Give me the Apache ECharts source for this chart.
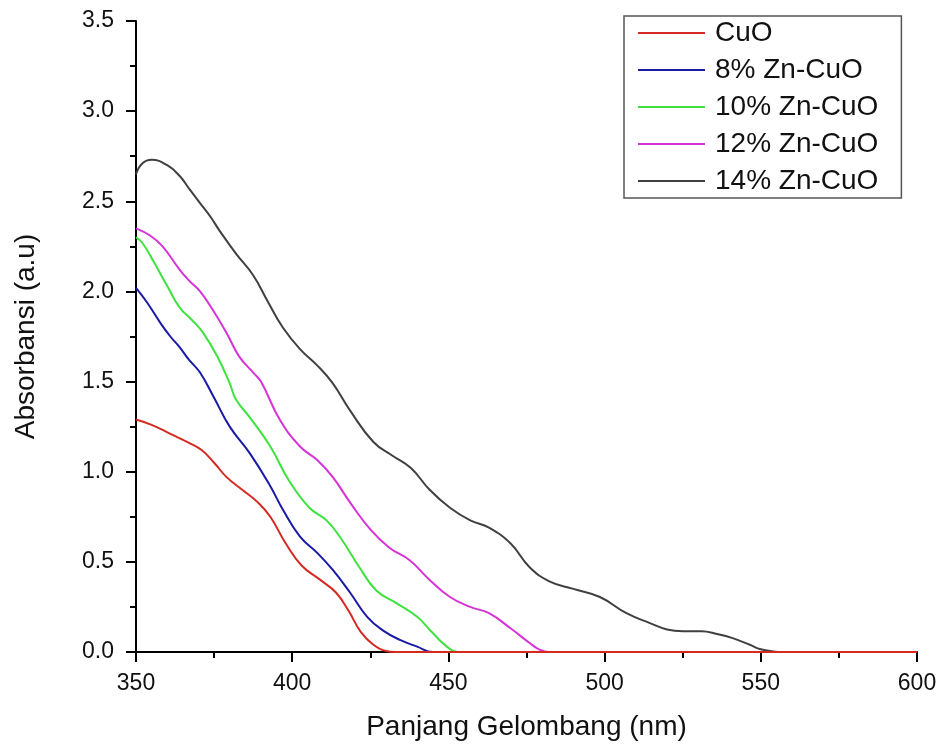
<!DOCTYPE html>
<html>
<head>
<meta charset="utf-8">
<script src="https://cdn.jsdelivr.net/npm/echarts@6/dist/echarts.min.js"></script>
<style>
  html, body { margin: 0; padding: 0; background: #fff; }
  #chart { width: 943px; height: 753px; }
</style>
</head>
<body>
<div id="chart"></div>
<script>
// UV-Vis absorbance spectra of CuO and Zn-doped CuO
const seriesNames = ['CuO', '8% Zn-CuO', '10% Zn-CuO', '12% Zn-CuO', '14% Zn-CuO'];
const seriesColors = ['#d42a22', '#1a1aa6', '#3ee23e', '#d634d6', '#404040'];

const wlCuO  = [350, 355, 361, 367, 371, 375, 379, 384, 389, 393, 398, 403, 409, 414, 418, 422, 426, 430, 433, 600];
const absCuO = [1.29, 1.26, 1.21, 1.16, 1.12, 1.05, 0.97, 0.90, 0.83, 0.75, 0.60, 0.48, 0.40, 0.33, 0.23, 0.11, 0.04, 0.005, 0, 0];

const wlZn8  = [350, 353.5, 358, 361, 364, 367, 370.5, 375, 380, 386.5, 393, 397, 402.5, 408, 413, 418.5, 424, 429, 434.5, 440, 445, 600];
const absZn8 = [2.02, 1.94, 1.82, 1.75, 1.69, 1.62, 1.55, 1.41, 1.25, 1.10, 0.92, 0.79, 0.64, 0.55, 0.455, 0.33, 0.195, 0.12, 0.067, 0.03, 0, 0];

const wlZn10  = [350, 352, 355.5, 360, 364, 368, 371.5, 376, 380, 382, 386.5, 393, 399, 405.5, 411, 416, 421.5, 427, 433.5, 440, 445, 449.5, 453, 600];
const absZn10 = [2.30, 2.27, 2.17, 2.03, 1.91, 1.84, 1.77, 1.64, 1.49, 1.40, 1.30, 1.14, 0.95, 0.80, 0.73, 0.62, 0.47, 0.34, 0.27, 0.195, 0.105, 0.03, 0, 0];

const wlZn12  = [350, 354.5, 358.5, 364, 367, 370.5, 374.5, 379, 383, 387.5, 390, 396, 402.5, 408, 413, 418.5, 425, 431, 437.5, 444, 450.5, 457, 463, 470, 476, 479, 482, 600];
const absZn12 = [2.35, 2.31, 2.25, 2.12, 2.06, 2.00, 1.90, 1.77, 1.64, 1.55, 1.50, 1.29, 1.14, 1.065, 0.97, 0.83, 0.68, 0.58, 0.51, 0.40, 0.305, 0.25, 0.215, 0.13, 0.05, 0.015, 0, 0];

const wlZn14  = [350, 352, 355, 360, 364, 367, 370.5, 374, 377, 382, 387.5, 392, 397, 402.5, 408, 413, 418.5, 426, 432, 438, 444, 450.5, 457, 463, 470, 476, 482.5, 490, 498.5, 507, 514.5, 520, 525, 531, 536, 541, 546.5, 550, 554, 557, 600];
const absZn14 = [2.65, 2.71, 2.73, 2.70, 2.64, 2.57, 2.49, 2.41, 2.33, 2.21, 2.09, 1.95, 1.80, 1.68, 1.59, 1.49, 1.34, 1.165, 1.09, 1.02, 0.90, 0.80, 0.73, 0.69, 0.60, 0.47, 0.39, 0.35, 0.305, 0.215, 0.16, 0.125, 0.115, 0.115, 0.10, 0.077, 0.04, 0.015, 0.003, 0, 0];

const wavelengths = [wlCuO, wlZn8, wlZn10, wlZn12, wlZn14];
const absorbances = [absCuO, absZn8, absZn10, absZn12, absZn14];

const xTicks = [350, 400, 450, 500, 550, 600];
const yTicks = [0.0, 0.5, 1.0, 1.5, 2.0, 2.5, 3.0, 3.5];

const fontFamily = '"Liberation Sans", Arial, sans-serif';

const series = seriesNames.map((name, i) => ({
  name: name,
  type: 'line',
  data: wavelengths[i].map((w, j) => [w, absorbances[i][j]]),
  showSymbol: false,
  smooth: 0.45,
  lineStyle: { width: 2, color: seriesColors[i] },
  itemStyle: { color: seriesColors[i] },
  // CuO is drawn last so its baseline runs on top
  z: i === 0 ? 10 : 5 - i,
  silent: true
}));

const chart = echarts.init(document.getElementById('chart'), null, { renderer: 'canvas' });
chart.setOption({
  animation: false,
  backgroundColor: '#ffffff',
  grid: { left: 136, right: 26, top: 21, bottom: 101, containLabel: false, outerBoundsMode: 'none' },
  legend: {
    orient: 'vertical',
    left: 624,
    top: 16,
    data: seriesNames,
    itemWidth: 67,
    itemHeight: 14,
    itemGap: 9,
    padding: [3, 23, 3, 14],
    borderColor: '#555',
    borderWidth: 1.5,
    backgroundColor: '#fff',
    icon: 'path://M0,6 L67,6 L67,8 L0,8 Z',
    textStyle: { fontFamily: fontFamily, fontSize: 28, color: '#111', padding: [0, 0, 0, 5] }
  },
  xAxis: {
    type: 'value',
    min: 350,
    max: 600,
    interval: 50,
    name: 'Panjang Gelombang (nm)',
    nameLocation: 'middle',
    nameGap: 61,
    nameTextStyle: { fontFamily: fontFamily, fontSize: 28, color: '#111' },
    axisLine: { show: true, onZero: false, lineStyle: { color: '#000', width: 2 } },
    axisTick: { show: true, inside: false, length: 10, lineStyle: { color: '#000', width: 2 } },
    minorTick: { show: true, splitNumber: 2, length: 6, lineStyle: { color: '#000', width: 2 } },
    axisLabel: {
      fontFamily: fontFamily, fontSize: 23, color: '#111', margin: 20,
      formatter: v => (xTicks.includes(v) ? String(v) : '')
    },
    splitLine: { show: false }
  },
  yAxis: {
    type: 'value',
    min: 0,
    max: 3.5,
    interval: 0.5,
    name: 'Absorbansi (a.u)',
    nameLocation: 'middle',
    nameGap: 96,
    nameRotate: 90,
    nameTextStyle: { fontFamily: fontFamily, fontSize: 28, color: '#111' },
    axisLine: { show: true, onZero: false, lineStyle: { color: '#000', width: 2 } },
    axisTick: { show: true, inside: false, length: 10, lineStyle: { color: '#000', width: 2 } },
    minorTick: { show: true, splitNumber: 2, length: 6, lineStyle: { color: '#000', width: 2 } },
    axisLabel: {
      fontFamily: fontFamily, fontSize: 23, color: '#111', margin: 22,
      formatter: v => {
        const t = yTicks.find(y => Math.abs(y - v) < 1e-9);
        return t === undefined ? '' : t.toFixed(1);
      }
    },
    splitLine: { show: false }
  },
  series: series
});
</script>
</body>
</html>
